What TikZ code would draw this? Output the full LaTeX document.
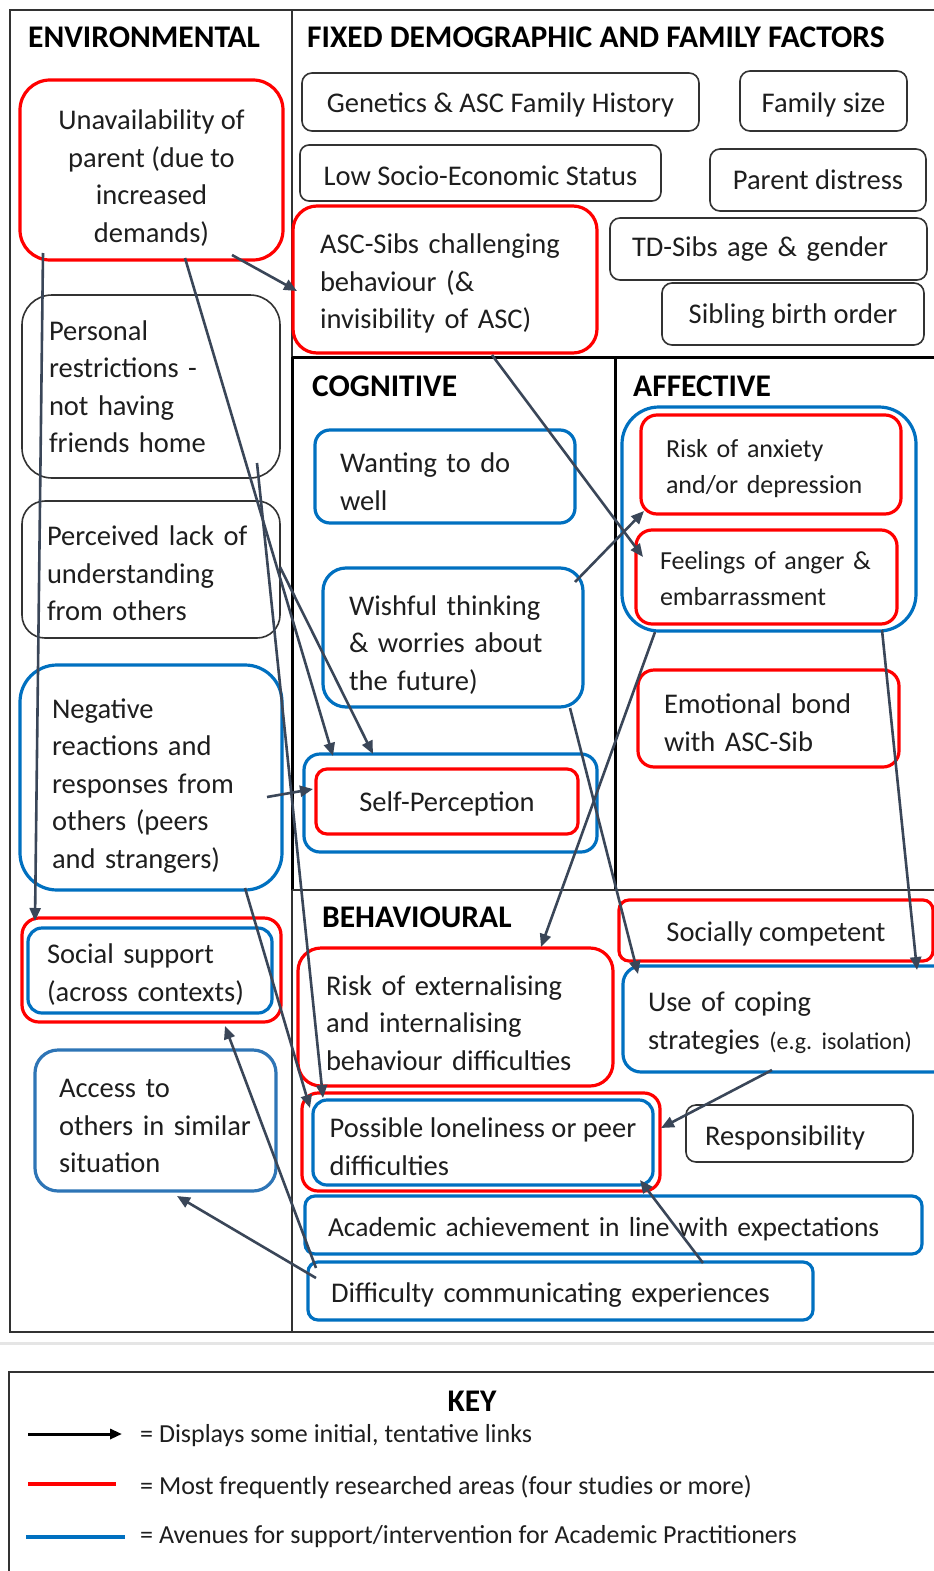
\documentclass[tikz,border=0pt]{standalone}
\usepackage{fontspec}
\setmainfont{Carlito}
\usetikzlibrary{arrows.meta}
\definecolor{myred}{RGB}{255,0,0}
\definecolor{myblue}{RGB}{0,112,192}
\definecolor{myblueb}{RGB}{46,117,182}
\definecolor{arrc}{RGB}{58,70,88}
\definecolor{txt}{RGB}{30,30,30}
\definecolor{framec}{RGB}{50,50,50}
\newcommand\txtbody{\fontsize{28.5}{37.5}\selectfont}
\newcommand\txtsmall{\fontsize{26}{36}\selectfont}
\newcommand\txthead{\fontsize{31.5}{36}\selectfont\bfseries}
\newcommand\txtkey{\fontsize{26}{32}\selectfont}
\newcommand\txteg{\fontsize{24}{30}\selectfont}
\newcommand\txtacad{\fontsize{27.5}{37.5}\selectfont}
\newcommand\dn[1]{\rule{0pt}{\dimexpr 20pt+#1pt+#1pt\relax}}
\begin{document}
\begin{tikzpicture}[x=1pt,y=-1pt,
  bx/.style={rounded corners=#1, outer sep=0pt, inner ysep=0pt, anchor=north west, font=\txtbody, text=txt, fill=white},
  bx/.default=10pt,
  sz/.style 2 args={minimum width=#1, minimum height=#2},
  lft/.style 2 args={text width=#1, inner xsep=#2, align=left},
  ctr/.style={align=center, inner xsep=0pt},
  blk/.style={draw=framec, line width=1.6pt},
  rb/.style={draw=myred, line width=3.2pt},
  bb/.style={draw=myblue, line width=3.2pt},
  bc/.style={draw=myblueb, line width=3.2pt},
  head/.style={font=\txthead, text=black, inner sep=0pt, anchor=base west},
  arr/.style={draw=arrc, line width=2.6pt, -{Triangle[length=13pt,width=11pt]}},
  keyt/.style={font=\txtkey, text=txt, inner sep=0pt, anchor=west}
]
\useasboundingbox (0,0) rectangle (934,1571);
\fill[white] (0,0) rectangle (934,1571);

% frame
\draw[framec, line width=2pt] (940,10) -- (10,10) -- (10,1332) -- (940,1332);
\draw[framec, line width=1.5pt] (292,10) -- (292,357);
\draw[black, line width=3pt] (292,357) -- (292,890);
\draw[framec, line width=1.5pt] (292,890) -- (292,1332);
\draw[black, line width=3pt] (292,357) -- (940,357);
\draw[black, line width=3pt] (615,357) -- (615,890);
\draw[framec, line width=1.5pt] (292,890) -- (940,890);

% headings
\node[head] (henv) at (28,48) {ENVIRONMENTAL};
\node[head] (hfix) at (307,48) {FIXED DEMOGRAPHIC AND FAMILY FACTORS};
\node[head] (hcog) at (312,396) {COGNITIVE};
\node[head] (haff) at (633,396) {AFFECTIVE};
\node[head] (hbeh) at (322,927) {BEHAVIOURAL};

% environmental
\node[bx=30pt, rb, sz={263pt}{180pt}, ctr] (unav) at (20,80) {\dn{8}Unavailability of\\parent (due to\\increased\\demands)};
\node[bx=30pt, blk, sz={258pt}{183pt}, lft={204pt}{27pt}] (pers) at (22,295) {Personal\\restrictions -\\not having\\friends home};
\node[bx=23pt, blk, sz={258pt}{137pt}, lft={208pt}{25pt}] (perc) at (22,501) {\dn{4}Perceived lack of\\understanding\\from others};
\node[bx=37pt, bb, sz={262pt}{225pt}, lft={198pt}{32pt}] (nega) at (20,665) {\dn{8}Negative\\reactions and\\responses from\\others (peers\\and strangers)};
\node[bx=17pt, rb, sz={259pt}{104pt}] (socR) at (22,918) {};
\node[bx=14pt, bb, sz={244pt}{85pt}, lft={206pt}{19pt}] (socB) at (28,928) {\dn{4}Social support\\(across contexts)};
\node[bx=23pt, bc, sz={241pt}{141pt}, lft={193pt}{24pt}] (access) at (35,1050) {\dn{5}Access to\\others in similar\\situation};

% fixed
\node[bx=10pt, blk, sz={397pt}{58pt}, ctr] (gene) at (302,73) {\dn{3}Genetics \& ASC Family History};
\node[bx=10pt, blk, sz={167pt}{60pt}, ctr] (fam) at (740,71) {\dn{4}Family size};
\node[bx=9pt, blk, sz={361pt}{56pt}, ctr] (lowses) at (300,145) {\dn{3}Low Socio-Economic Status};
\node[bx=10pt, blk, sz={216pt}{62pt}, ctr] (pdist) at (710,149) {Parent distress};
\node[bx=24pt, rb, sz={304pt}{147pt}, lft={250pt}{27pt}] (ascs) at (293,206) {\dn{4}ASC-Sibs challenging\\behaviour (\&\\invisibility of ASC)};
\node[bx=10pt, blk, sz={317pt}{62pt}, lft={273pt}{22pt}] (tdsib) at (610,218) {TD-Sibs age \& gender};
\node[bx=10pt, blk, sz={262pt}{62pt}, ctr] (sibord) at (662,283) {\dn{2}Sibling birth order};

% cognitive
\node[bx=15pt, bb, sz={260pt}{93pt}, lft={210pt}{25pt}] (want) at (315,430) {\dn{5}Wanting to do\\well};
\node[bx=23pt, bb, sz={260pt}{139pt}, lft={208pt}{26pt}] (wish) at (323,568) {\dn{7}Wishful thinking\\\& worries about\\the future)};
\node[bx=16pt, bb, sz={293pt}{98pt}] (selfB) at (304,754) {};
\node[bx=11pt, rb, sz={262pt}{65pt}, ctr] (selfR) at (316,769) {\dn{2}Self-Perception};

% affective
\node[bx=37pt, bb, sz={294pt}{224pt}] (affB) at (622,407) {};
\node[bx=16pt, rb, sz={260pt}{99pt}, lft={210pt}{25pt}, font=\txtsmall] (anx) at (641,415) {\dn{3}Risk of anxiety\\and/or depression};
\node[bx=16pt, rb, sz={261pt}{94pt}, lft={213pt}{24pt}, font=\txtsmall] (anger) at (636,530) {\dn{1}Feelings of anger \&\\embarrassment};
\node[bx=16pt, rb, sz={261pt}{97pt}, lft={209pt}{26pt}] (bond) at (638,670) {\dn{4}Emotional bond\\with ASC-Sib};

% behavioural
\node[bx=23pt, rb, sz={315pt}{138pt}, lft={259pt}{28pt}] (ext) at (298,948) {\dn{6}Risk of externalising\\and internalising\\behaviour difficulties};
\node[bx=10pt, rb, sz={314pt}{61pt}, ctr] (socc) at (619,900) {\dn{3}Socially competent};
\node[bx=18pt, bb, sz={330pt}{106pt}, lft={280pt}{25pt}] (coping) at (623,966) {\dn{4}Use of coping\\strategies {\txteg(e.g.\ isolation)}};
\node[bx=16pt, rb, sz={358pt}{98pt}] (loneR) at (302,1093) {};
\node[bx=14pt, bb, sz={340pt}{85pt}, align=left, inner xsep=15pt] (loneB) at (313,1100) {\dn{4}Possible loneliness or peer\\difficulties};
\node[bx=10pt, blk, sz={227pt}{57pt}, lft={189pt}{19pt}] (resp) at (686,1105) {\dn{4}Responsibility};
\node[bx=10pt, bb, sz={617pt}{58pt}, lft={571pt}{23pt}, font=\txtacad] (acad) at (305,1196) {\mbox{\dn{4}Academic achievement in line with expectations}};
\node[bx=10pt, bb, sz={505pt}{58pt}, lft={459pt}{23pt}] (diff) at (308,1262) {\dn{4}Difficulty communicating experiences};

% arrows
\draw[arr] ([shift={(212,175)}]unav.north west) -- ([shift={(4,85)}]ascs.north west);
\draw[arr] ([shift={(23,173)}]unav.north west) -- ([shift={(13,3)}]socR.north west);
\draw[arr] ([shift={(165,178)}]unav.north west) -- ([shift={(29,2)}]selfB.north west);
\draw[arr] ([shift={(258,66)}]perc.north west) -- ([shift={(69,0)}]selfB.north west);
\draw[arr] ([shift={(235,168)}]pers.north west) -- ([shift={(21,5)}]loneR.north west);
\draw[arr] ([shift={(247,132)}]nega.north west) -- ([shift={(-3,20)}]selfR.north west);
\draw[arr] ([shift={(225,223)}]nega.north west) -- ([shift={(8,15)}]loneR.north west);
\draw[arr] ([shift={(8,6)}]diff.north west) -- ([shift={(203,108)}]socR.north west);
\draw[arr] ([shift={(8,16)}]diff.north west) -- ([shift={(142,146)}]access.north west);
\draw[arr] ([shift={(395,1)}]diff.north west) -- ([shift={(327,80)}]loneB.north west);
\draw[arr] ([shift={(149,104)}]coping.north west) -- ([shift={(359,35)}]loneR.north west);
\draw[arr] ([shift={(199,149)}]ascs.north west) -- ([shift={(7,27)}]anger.north west);
\draw[arr] ([shift={(252,14)}]wish.north west) -- ([shift={(3,96)}]anx.north west);
\draw[arr] ([shift={(33,225)}]affB.north west) -- ([shift={(243,-1)}]ext.north west);
\draw[arr] ([shift={(247,140)}]wish.north west) -- ([shift={(15,8)}]coping.north west);
\draw[arr] ([shift={(260,223)}]affB.north west) -- ([shift={(294,4)}]coping.north west);

% key
\draw[gray!20, line width=3pt] (0,1343) -- (934,1343);
\node[draw=framec, line width=2pt, anchor=north west, minimum width=960pt, minimum height=260pt, outer sep=0pt] (keybox) at (9,1372) {};
\node[font=\txthead, text=black, inner sep=0pt] (keyh) at (472,1401) {KEY};
\coordinate (k1a) at (28,1434);
\coordinate (k1b) at (122,1434);
\draw[black, line width=3pt, -{Triangle[length=12pt,width=10pt]}] (k1a) -- (k1b);
\node[keyt] (k1t) at (140,1436) {= Displays some initial, tentative links};
\coordinate (k2a) at (28,1484);
\coordinate (k2b) at (116,1484);
\draw[myred, line width=4pt] (k2a) -- (k2b);
\node[keyt] (k2t) at (140,1487) {= Most frequently researched areas (four studies or more)};
\coordinate (k3a) at (26,1537);
\coordinate (k3b) at (125,1537);
\draw[myblue, line width=4pt] (k3a) -- (k3b);
\node[keyt] (k3t) at (140,1537) {= Avenues for support/intervention for Academic Practitioners};
\end{tikzpicture}
\end{document}
